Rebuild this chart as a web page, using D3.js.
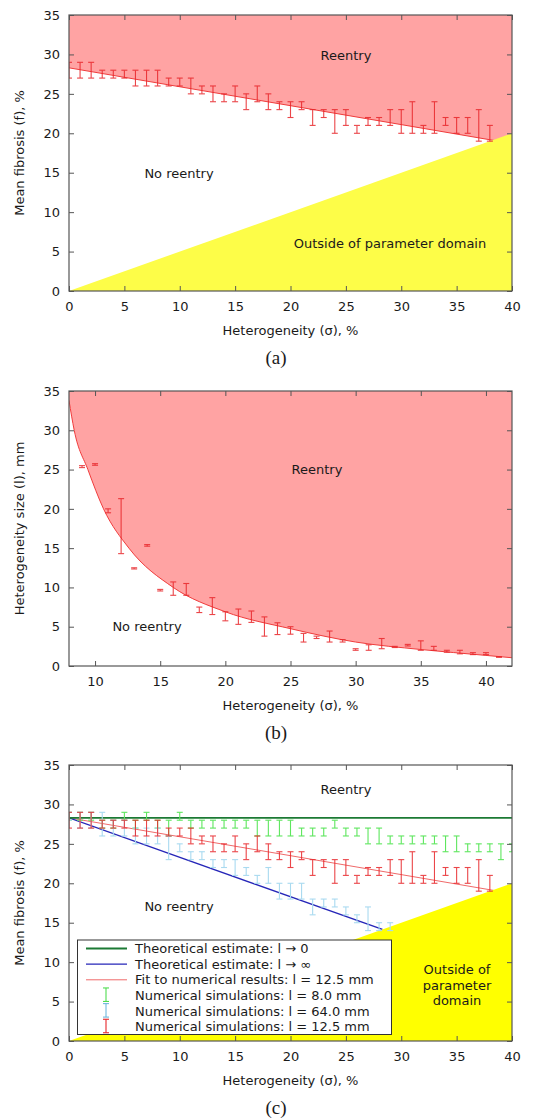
<!DOCTYPE html>
<html><head><meta charset="utf-8">
<script src="https://cdn.jsdelivr.net/npm/d3@7"></script>
<style>
body{margin:0;background:#fff;}
svg text{font-family:"DejaVu Sans",sans-serif;fill:#1a1a1a;}
</style></head><body>
<svg id="fig" width="556" height="1120"></svg>
<script>
// ---------- data ----------
// Heterogeneity values (σ, %) of the l = 12.5 mm simulations
const sigma125 = [0,1,2,3,4,5,6,7,8,9,10,11,12,13,14,15,16,17,18,19,20,21,22,23,24,25,26,27,28,29,30,31,32,33,34,35,36,37,38];
const hi125 = [29,29,29,28,28,28,28,28,28,27,27,27,26,26,25,26,25,26,25,24,24,24,23,23,23,23,21,22,22,23,23,24,21,24,22,22,22,23,21];
const lo125 = [27,27,27,27,27,27,26,26,26,26,26,25,25,24,24,24,23,24,23,23,22,23,21,22,20,21,20,21,21,21,20,20,20,20,21,20,20,19,19];

// l = 8.0 mm simulations
const sigma80 = [0,1,2,3,4,5,6,7,8,9,10,11,12,13,14,15,16,17,18,19,20,21,22,23,24,25,26,27,28,29,30,31,32,33,34,35,36,37,38,39,40];
const hi80 = [29,29,29,28,28,29,28,29,28,28,29,28,28,28,28,28,28,28,28,28,28,27,27,27,28,27,27,27,27,26,26,26,26,26,26,26,25,25,25,25,25];
const lo80 = [28,28,28,27,27,28,27,28,27,26,28,27,27,27,27,27,27,26,26,26,26,26,26,26,27,26,26,25,25,25,25,25,25,25,24,24,24,24,24,23,24];

// l = 64.0 mm simulations
const sigma640 = [0,1,2,3,4,5,6,7,8,9,10,11,12,13,14,15,16,17,18,19,20,21,22,23,24,25,26,27,28,29];
const hi640 = [29,29,29,29,28,28,27,27,27,26,25,24,24,23,23,23,22,21,22,20,20,20,18,18,18,17,16,17,15,15];
const lo640 = [28,27,27,26,26,26,25,25,25,23,24,23,23,22,22,21,21,20,20,18,18,18,16,17,17,16,15,14,14,14];

// Reentry threshold lines in the (σ, f) plane
const fitLine = [[0, 28.3], [40, 18.7]];     // fit, l = 12.5 mm
const limitZero = [[0, 28.3], [40, 28.3]];   // l → 0
const limitInf = [[0, 28.3], [28.3, 14.15]]; // l → ∞
const domainEdge = [[0, 0], [40, 0], [40, 20]]; // f < σ/2 is not admissible

// Panel (b): critical heterogeneity size (l, mm) versus σ
const sigmaB = [9,10,11,12,13,14,15,16,17,18,19,20,21,22,23,24,25,26,27,28,29,30,31,32,33,34,35,36,37,38,39,40,41];
const hiB = [25.5,25.75,20.0,21.3,12.5,15.45,9.75,10.7,10.5,7.5,8.7,6.9,7.25,7.0,6.25,5.5,5.0,4.15,3.8,4.45,3.35,2.2,2.7,3.5,2.5,2.75,3.2,2.5,2.0,2.0,1.7,1.7,1.2];
const loB = [25.25,25.55,19.5,14.3,12.35,15.25,9.55,9.0,9.0,6.8,6.55,5.75,5.3,5.55,3.8,4.0,4.05,3.05,3.5,3.05,3.05,2.0,2.0,2.2,2.35,2.55,2.0,2.0,1.75,1.55,1.45,1.45,1.1];
const curveB = [[8,33.8],[8.4,30],[9.45,25],[10.65,20],[12.6,15],[16,10],[20,6.9],[25,4.75],[30,3.05],[35,2.1],[40,1.35],[42,1.05]];

const xTicksA = [0,5,10,15,20,25,30,35,40];
const xTicksB = [10,15,20,25,30,35,40];
const yTicks = [0,5,10,15,20,25,30,35];

// ---------- drawing ----------
const svg = d3.select("#fig");
const L = 69, R = 512;
const PINK = "#ffa3a3", YELLOW_A = "#fdfd48", YELLOW_C = "#ffff00";

function zip(s, h, l) { return s.map((v, i) => ({s: v, hi: h[i], lo: l[i]})); }

function frame(g, x, y, xTicks, top, bottom) {
  const ax = g.append("g");
  ax.append("g").attr("transform", `translate(0,${bottom})`)
    .call(d3.axisBottom(x).tickValues(xTicks).tickSizeInner(-5).tickSizeOuter(0).tickPadding(11));
  ax.append("g").attr("transform", `translate(0,${top})`)
    .call(d3.axisTop(x).tickValues(xTicks).tickSizeInner(-5).tickSizeOuter(0).tickFormat(""));
  ax.append("g").attr("transform", `translate(${L},0)`)
    .call(d3.axisLeft(y).tickValues(yTicks).tickSizeInner(-5).tickSizeOuter(0).tickPadding(9));
  ax.append("g").attr("transform", `translate(${R},0)`)
    .call(d3.axisRight(y).tickValues(yTicks).tickSizeInner(-5).tickSizeOuter(0).tickFormat(""));
  ax.selectAll(".domain").remove();
  ax.selectAll(".tick line").attr("stroke", "#555");
  ax.selectAll(".tick text").attr("font-size", 13).attr("font-family", "DejaVu Sans").attr("fill", "#1a1a1a");
  g.append("rect").attr("x", L).attr("y", top).attr("width", R - L).attr("height", bottom - top)
    .attr("fill", "none").attr("stroke", "#555").attr("stroke-width", 1.2);
}

function errorBars(g, data, x, y, color, op) {
  const cap = 3;
  const b = g.append("g").attr("stroke", color).attr("stroke-width", 1.1).attr("opacity", op);
  b.selectAll("line.v").data(data).join("line").attr("class", "v")
    .attr("x1", d => x(d.s)).attr("x2", d => x(d.s)).attr("y1", d => y(d.hi)).attr("y2", d => y(d.lo));
  b.selectAll("line.t").data(data).join("line").attr("class", "t")
    .attr("x1", d => x(d.s) - cap).attr("x2", d => x(d.s) + cap).attr("y1", d => y(d.hi)).attr("y2", d => y(d.hi));
  b.selectAll("line.b").data(data).join("line").attr("class", "b")
    .attr("x1", d => x(d.s) - cap).attr("x2", d => x(d.s) + cap).attr("y1", d => y(d.lo)).attr("y2", d => y(d.lo));
}

function labels(g, top, bottom, yTitle, cap) {
  g.append("text").attr("x", (L + R) / 2).attr("y", bottom + 44).attr("text-anchor", "middle")
    .attr("font-size", 13).text("Heterogeneity (σ), %");
  g.append("text").attr("transform", `translate(24,${(top + bottom) / 2}) rotate(-90)`)
    .attr("text-anchor", "middle").attr("font-size", 13).text(yTitle);
  g.append("text").attr("x", 276).attr("y", bottom + 73).attr("text-anchor", "middle")
    .attr("font-size", 19).style("font-family", "'Liberation Serif', serif").text(cap);
}

function note(g, x, y, t) {
  g.append("text").attr("x", x).attr("y", y).attr("text-anchor", "middle").attr("font-size", 13).text(t);
}

const defs = svg.append("defs");
function clip(id, top, bottom) {
  defs.append("clipPath").attr("id", id).append("rect")
    .attr("x", L).attr("y", top).attr("width", R - L).attr("height", bottom - top);
  return `url(#${id})`;
}

// ----- panel (a) -----
{
  const top = 15, bottom = 291;
  const x = d3.scaleLinear([0, 40], [L, R]);
  const y = d3.scaleLinear([0, 35], [bottom, top]);
  const g = svg.append("g");
  const c = g.append("g").attr("clip-path", clip("clipA", top, bottom));
  c.append("path").datum(fitLine)
    .attr("d", d3.area().x(d => x(d[0])).y0(y(35)).y1(d => y(d[1])))
    .attr("fill", PINK);
  c.append("path").datum(fitLine).attr("d", d3.line().x(d => x(d[0])).y(d => y(d[1])))
    .attr("fill", "none").attr("stroke", "#f03c3c").attr("stroke-width", 1);
  c.append("path").datum(domainEdge).attr("d", d3.line().x(d => x(d[0])).y(d => y(d[1])))
    .attr("fill", YELLOW_A);
  errorBars(c, zip(sigma125, hi125, lo125), x, y, "#e8262a", 0.85);
  note(g, 346, 59.5, "Reentry");
  note(g, 179, 177.5, "No reentry");
  note(g, 390, 247.5, "Outside of parameter domain");
  frame(g, x, y, xTicksA, top, bottom);
  labels(g, top, bottom, "Mean fibrosis (f), %", "(a)");
}

// ----- panel (b) -----
{
  const top = 391, bottom = 666;
  const x = d3.scaleLinear([8, 42], [L, R]);
  const y = d3.scaleLinear([0, 35], [bottom, top]);
  const g = svg.append("g");
  const c = g.append("g").attr("clip-path", clip("clipB", top, bottom));
  c.append("path").datum(curveB)
    .attr("d", d3.area().curve(d3.curveMonotoneX).x(d => x(d[0])).y0(y(35)).y1(d => y(d[1])))
    .attr("fill", PINK);
  c.append("path").datum(curveB)
    .attr("d", d3.line().curve(d3.curveMonotoneX).x(d => x(d[0])).y(d => y(d[1])))
    .attr("fill", "none").attr("stroke", "#f03c3c").attr("stroke-width", 1);
  errorBars(c, zip(sigmaB, hiB, loB), x, y, "#e8262a", 0.85);
  note(g, 317, 473.5, "Reentry");
  note(g, 147, 631, "No reentry");
  frame(g, x, y, xTicksB, top, bottom);
  labels(g, top, bottom, "Heterogeneity size (l), mm", "(b)");
}

// ----- panel (c) -----
{
  const top = 765, bottom = 1041;
  const x = d3.scaleLinear([0, 40], [L, R]);
  const y = d3.scaleLinear([0, 35], [bottom, top]);
  const g = svg.append("g");
  const c = g.append("g").attr("clip-path", clip("clipC", top, bottom));
  const line = d3.line().x(d => x(d[0])).y(d => y(d[1]));
  c.append("path").datum(fitLine).attr("d", line).attr("fill", "none").attr("stroke", "#f06a6a").attr("stroke-width", 1);
  c.append("path").datum(limitInf).attr("d", line).attr("fill", "none").attr("stroke", "#2626b8").attr("stroke-width", 1.4);
  c.append("path").datum(domainEdge).attr("d", line).attr("fill", YELLOW_C);
  c.append("path").datum(limitZero).attr("d", line).attr("fill", "none").attr("stroke", "#1c7a34").attr("stroke-width", 1.8);
  errorBars(c, zip(sigma80, hi80, lo80), x, y, "#5ee65e", 1);
  errorBars(c, zip(sigma640, hi640, lo640), x, y, "#a9daf0", 1);
  errorBars(c, zip(sigma125, hi125, lo125), x, y, "#e8262a", 0.85);
  note(g, 346, 793.5, "Reentry");
  note(g, 179, 911, "No reentry");
  note(g, 457, 973.5, "Outside of");
  note(g, 457, 989.5, "parameter");
  note(g, 457, 1005, "domain");

  // legend
  const lg = g.append("g");
  lg.append("rect").attr("x", 77.5).attr("y", 940).attr("width", 314).attr("height", 94.5)
    .attr("fill", "#fff").attr("stroke", "#333").attr("stroke-width", 1);
  const rows = [
    {t: "Theoretical estimate: l → 0", kind: "line", color: "#1c7a34", w: 1.8},
    {t: "Theoretical estimate: l → ∞", kind: "line", color: "#2626b8", w: 1.4},
    {t: "Fit to numerical results: l = 12.5 mm", kind: "line", color: "#f06a6a", w: 1},
    {t: "Numerical simulations: l = 8.0 mm", kind: "bar", color: "#4fdc4f"},
    {t: "Numerical simulations: l = 64.0 mm", kind: "bar", color: "#6fb8de"},
    {t: "Numerical simulations: l = 12.5 mm", kind: "bar", color: "#e8262a"}
  ];
  rows.forEach((r, i) => {
    const cy = 948.5 + i * 15.65;
    if (r.kind === "line") {
      lg.append("line").attr("x1", 86).attr("x2", 127).attr("y1", cy).attr("y2", cy)
        .attr("stroke", r.color).attr("stroke-width", r.w);
    } else {
      const bx = 106, y1 = cy - 7.5, y2 = cy + 6;
      const bg = lg.append("g").attr("stroke", r.color).attr("stroke-width", 1.1);
      bg.append("line").attr("x1", bx).attr("x2", bx).attr("y1", y1).attr("y2", y2);
      bg.append("line").attr("x1", bx - 3).attr("x2", bx + 3).attr("y1", y1).attr("y2", y1);
      bg.append("line").attr("x1", bx - 3).attr("x2", bx + 3).attr("y1", y2).attr("y2", y2);
    }
    lg.append("text").attr("x", 135).attr("y", cy + 4.6).attr("font-size", 13).text(r.t);
  });

  frame(g, x, y, xTicksA, top, bottom);
  labels(g, top, bottom, "Mean fibrosis (f), %", "(c)");
}
</script>
</body></html>
